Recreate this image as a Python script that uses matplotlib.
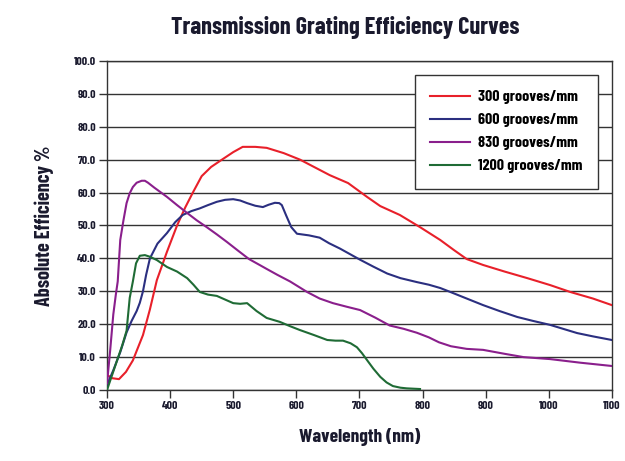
import matplotlib.pyplot as plt

# wavelength (nm) / absolute efficiency (%)
wl_300 = [300, 308, 319, 330, 341, 357, 368, 379, 395, 411, 424, 436, 450, 465, 482, 500, 515, 535, 553,
          580, 606, 630, 653, 682, 712, 733, 764, 796, 828, 850, 870, 896, 930, 966, 1002, 1034, 1070, 1100]
eff_300 = [4.6, 3.6, 3.3, 5.5, 9.0, 16.7, 24.5, 33.4, 42.0, 50.0, 55.5, 60.0, 65.0, 67.8, 70.0, 72.3,
           73.9, 73.9, 73.6, 72.0, 70.0, 67.6, 65.3, 62.9, 58.7, 55.9, 53.2, 49.5, 45.6, 42.5, 39.8, 38.0,
           36.0, 34.0, 31.9, 29.8, 27.8, 25.8]

wl_600 = [300, 310, 321, 331, 339, 347, 352, 357, 362, 368, 380, 395, 408, 420, 434, 447, 460, 474, 487,
          500, 511, 522, 535, 547, 556, 566, 573, 577, 584, 592, 601, 620, 637, 652, 669, 701, 722, 744,
          765, 791, 810, 828, 844, 870, 896, 922, 950, 975, 1002, 1045, 1070, 1100]
eff_600 = [1.5, 6.0, 11.5, 17.5, 21.0, 24.0, 26.5, 30.0, 35.0, 40.0, 44.5, 47.7, 51.0, 53.2, 54.4, 55.2,
           56.2, 57.2, 57.8, 58.0, 57.6, 56.8, 56.0, 55.6, 56.3, 56.9, 56.8, 56.2, 53.0, 49.5, 47.5, 47.0,
           46.3, 44.6, 43.0, 39.6, 37.5, 35.4, 34.0, 32.8, 32.0, 31.0, 29.8, 27.8, 25.8, 24.0, 22.2, 21.0,
           19.8, 17.3, 16.3, 15.2]

wl_830 = [300, 305, 310, 314, 317, 321, 326, 331, 336, 341, 347, 355, 360, 365, 375, 395, 411, 427, 442,
          458, 474, 490, 508, 525, 540, 553, 570, 590, 617, 637, 658, 680, 701, 725, 748, 770, 791, 810,
          826, 845, 870, 896, 930, 960, 1002, 1050, 1100]
eff_830 = [2.0, 12.0, 23.0, 29.0, 33.0, 45.6, 51.5, 56.8, 59.8, 61.7, 63.0, 63.6, 63.6, 63.0, 61.5, 58.7,
           56.2, 53.8, 51.6, 49.5, 47.3, 45.0, 42.3, 39.8, 38.2, 36.8, 35.0, 33.0, 29.8, 27.8, 26.4, 25.3,
           24.3, 22.0, 19.6, 18.6, 17.4, 16.0, 14.5, 13.3, 12.5, 12.2, 11.0, 10.0, 9.4, 8.3, 7.3]

wl_1200 = [300, 308, 316, 324, 331, 336, 341, 346, 352, 360, 368, 379, 395, 411, 427, 437, 447, 460, 474,
           487, 500, 511, 522, 537, 553, 574, 590, 606, 628, 649, 662, 674, 686, 696, 704, 712, 722, 733,
           743, 753, 765, 775, 796]
eff_1200 = [0.0, 4.5, 9.0, 13.5, 18.0, 28.0, 33.0, 38.5, 40.8, 41.0, 40.5, 39.5, 37.4, 36.0, 34.0, 32.0,
            29.8, 29.0, 28.6, 27.5, 26.4, 26.2, 26.4, 24.0, 21.9, 20.7, 19.4, 18.2, 16.7, 15.2, 15.0, 15.0,
            14.2, 13.0, 11.2, 9.1, 6.5, 4.0, 2.3, 1.2, 0.7, 0.5, 0.3]

labels = ['300 grooves/mm', '600 grooves/mm', '830 grooves/mm', '1200 grooves/mm']
colors = ['#e8202a', '#2b2f80', '#8a1f8c', '#1f6b35']

FONT = dict(family=['Barlow Condensed', 'DejaVu Sans'], weight='bold')
INK = '#1a1a2e'

fig = plt.figure(figsize=(6.25, 4.61), dpi=100)
ax = fig.add_axes([0.1712, 0.154, 0.8078, 0.7137])

series = [(wl_300, eff_300), (wl_600, eff_600), (wl_830, eff_830), (wl_1200, eff_1200)]
for (x, y), lab, c in zip(series, labels, colors):
    ax.plot(x, y, color=c, lw=1.5, label=lab, zorder=3, solid_joinstyle='round')

ax.set_xlim(300, 1100)
ax.set_ylim(0, 100)
ax.set_xticks(range(300, 1101, 100))
ax.set_yticks(range(0, 101, 10))
ax.set_yticklabels(['%.1f' % v for v in range(0, 101, 10)])
ax.yaxis.grid(True, color='#333333', lw=1.0)
ax.set_axisbelow(True)
for s in ax.spines.values():
    s.set_color('#333333')
    s.set_linewidth(1.0)
ax.tick_params(axis='both', length=6, width=1, color='#333333', pad=2)
for t in ax.get_xticklabels() + ax.get_yticklabels():
    t.set_fontproperties(dict(FONT, size=8.5))
    t.set_color(INK)

ax.set_xlabel('Wavelength (nm)', fontsize=14, labelpad=12, color=INK, **FONT)
ax.set_ylabel('Absolute Efficiency %', fontsize=14.5, labelpad=14, color=INK, **FONT)
fig.text(0.552, 0.94, 'Transmission Grating Efficiency Curves', ha='center', va='center',
         fontsize=17.5, color=INK, **FONT)

leg = ax.legend(loc='upper right', bbox_to_anchor=(0.972, 0.957), borderaxespad=0,
                prop=dict(FONT, size=11.5), frameon=True, fancybox=False, edgecolor='#333333',
                framealpha=1, handlelength=2.5, borderpad=0.95, labelspacing=0.55, handletextpad=0.5)
leg.get_frame().set_linewidth(1.0)

fig.savefig('out.png', dpi=100)
